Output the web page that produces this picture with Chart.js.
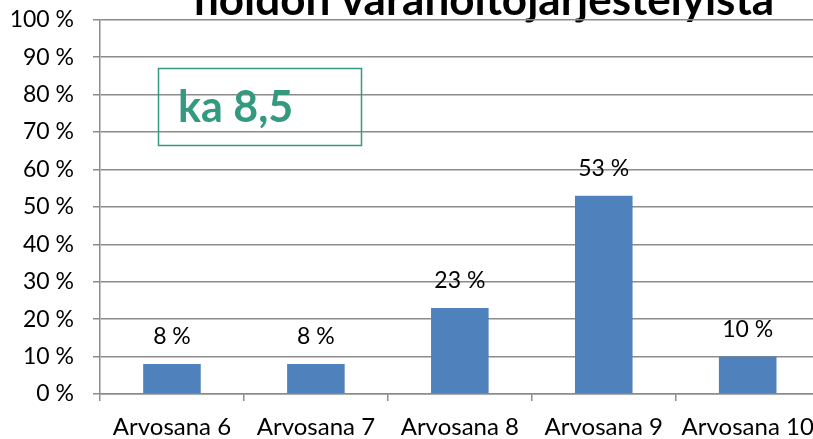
<!DOCTYPE html>
<html>
<head>
<meta charset="utf-8">
<script src="https://cdn.jsdelivr.net/npm/chart.js@4/dist/chart.umd.min.js"></script>
<style>
  html, body { margin: 0; padding: 0; background: #ffffff; overflow: hidden; width: 813px; height: 439px; }
  #wrap { position: absolute; left: 0; top: -13px; width: 826px; height: 452px; }
</style>
</head>
<body>
<div id="wrap"><canvas id="c"></canvas></div>
<script>
// ---- data ----
const categories = ["Arvosana 6", "Arvosana 7", "Arvosana 8", "Arvosana 9", "Arvosana 10"];
const shares = [8, 8, 23, 53, 10];
const yTicks = [0, 10, 20, 30, 40, 50, 60, 70, 80, 90, 100];
const titleText = "hoidon varahoitojärjestelyistä";
const averageText = "ka 8,5";

const FONT = "Lato, 'Open Sans', sans-serif";
const gridColor = "#8c8c8c";
const teal = "#33997f";
const SHIFT = 13; // canvas is shifted up so the title is clipped at the top, as in the source

const titlePlugin = {
  id: "clippedTitle",
  beforeDraw(chart) {
    const ctx = chart.ctx;
    ctx.save();
    ctx.font = "bold 44px " + FONT;
    ctx.fillStyle = "#000000";
    ctx.textAlign = "center";
    ctx.textBaseline = "alphabetic";
    ctx.fillText(titleText, 484, 15 + SHIFT);
    ctx.restore();
  }
};

const valueLabels = {
  id: "valueLabels",
  afterDatasetsDraw(chart) {
    const ctx = chart.ctx;
    const meta = chart.getDatasetMeta(0);
    ctx.save();
    ctx.font = "23px " + FONT;
    ctx.fillStyle = "#000000";
    ctx.textAlign = "center";
    ctx.textBaseline = "middle";
    meta.data.forEach((bar, i) => {
      ctx.fillText(shares[i] + " %", bar.x, bar.y - 27);
    });
    ctx.restore();
  }
};

const averageBox = {
  id: "averageBox",
  afterDraw(chart) {
    const ctx = chart.ctx;
    ctx.save();
    ctx.strokeStyle = teal;
    ctx.lineWidth = 1.5;
    ctx.strokeRect(158.5, 68.5 + SHIFT, 203, 77);
    ctx.font = "bold 43px " + FONT;
    ctx.fillStyle = teal;
    ctx.textAlign = "left";
    ctx.textBaseline = "alphabetic";
    ctx.fillText(averageText, 178, 122 + SHIFT);
    ctx.restore();
  }
};

new Chart(document.getElementById("c"), {
  type: "bar",
  data: {
    labels: categories,
    datasets: [{
      data: shares,
      backgroundColor: "#4f81bd",
      borderWidth: 0,
      categoryPercentage: 1.0,
      barPercentage: 0.4
    }]
  },
  options: {
    responsive: true,
    maintainAspectRatio: false,
    animation: false,
    layout: { padding: { top: 6, right: 2, bottom: 0, left: 0 } },
    plugins: {
      legend: { display: false },
      title: { display: false },
      tooltip: { enabled: false }
    },
    scales: {
      x: {
        grid: {
          display: true,
          drawOnChartArea: false,
          drawTicks: true,
          tickLength: 7,
          color: gridColor,
          lineWidth: 1.5,
          offset: true
        },
        border: { display: true, color: gridColor, width: 1.5 },
        ticks: {
          font: { family: FONT, size: 24 },
          color: "#000000",
          padding: 12,
          maxRotation: 0,
          autoSkip: false
        },
        afterFit(scale) { scale.height = 45; }
      },
      y: {
        min: 0,
        max: 100,
        afterBuildTicks(scale) { scale.ticks = yTicks.map(v => ({ value: v })); },
        grid: {
          color: gridColor,
          lineWidth: 1.5,
          drawTicks: true,
          tickLength: 7
        },
        border: { display: true, color: gridColor, width: 1.5 },
        ticks: {
          font: { family: FONT, size: 23 },
          color: "#000000",
          padding: 19,
          callback: v => v + " %"
        },
        afterFit(scale) { scale.width = 100; }
      }
    }
  },
  plugins: [titlePlugin, valueLabels, averageBox]
});
</script>
</body>
</html>
